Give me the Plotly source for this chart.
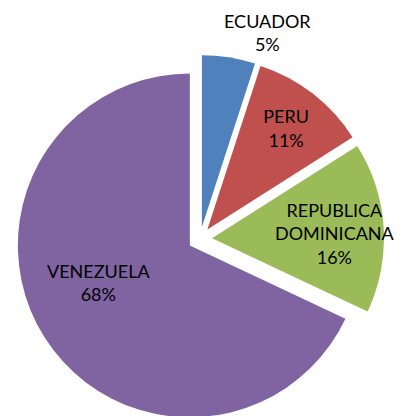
import plotly.graph_objects as go

# --- dati ---
paesi = ["ECUADOR", "PERU", "REPUBLICA<br>DOMINICANA", "VENEZUELA"]
quote = [5, 11, 16, 68]
colori = ["#4F81BD", "#C0504D", "#9BBB59", "#8064A2"]

# PERU resta come testo interno della torta; le altre etichette vanno come
# annotazioni (plotly rimpicciolisce o sposta il testo in quelle fette)
posizioni_testo = ["none", "inside", "none", "none"]
# centro etichetta in pixel della figura (None = testo della torta)
pos_etichette = [(259, 25), None, (327, 225), (90, 274)]

FONT = dict(family="Lato", size=18, color="#000000")
W, H = 394, 440  # la pagina ha 8px di margine, il fondo viene tagliato come nell'originale

fig = go.Figure()
fig.add_trace(go.Pie(
    labels=paesi,
    values=quote,
    sort=False,
    direction="clockwise",
    rotation=0,
    pull=[0.07, 0.07, 0.07, 0.07],
    marker=dict(colors=colori, line=dict(width=0)),
    texttemplate="%{label}<br>%{value}%",
    textposition=posizioni_testo,
    insidetextorientation="horizontal",
    textfont=FONT,
    domain=dict(x=[8 / W, 376 / W], y=[25 / H, 393 / H]),
    showlegend=False,
    hoverinfo="label+percent",
))

for paese, quota, pos in zip(paesi, quote, pos_etichette):
    if pos is None:
        continue
    fig.add_annotation(
        text=f"{paese}<br>{quota}%",
        xref="paper", yref="paper",
        x=pos[0] / W, y=1 - pos[1] / H,
        xanchor="center", yanchor="middle",
        showarrow=False,
        font=FONT,
    )

fig.update_layout(
    width=W,
    height=H,
    margin=dict(l=0, r=0, t=0, b=0),
    paper_bgcolor="white",
    plot_bgcolor="white",
)

fig.write_html("out.html")
